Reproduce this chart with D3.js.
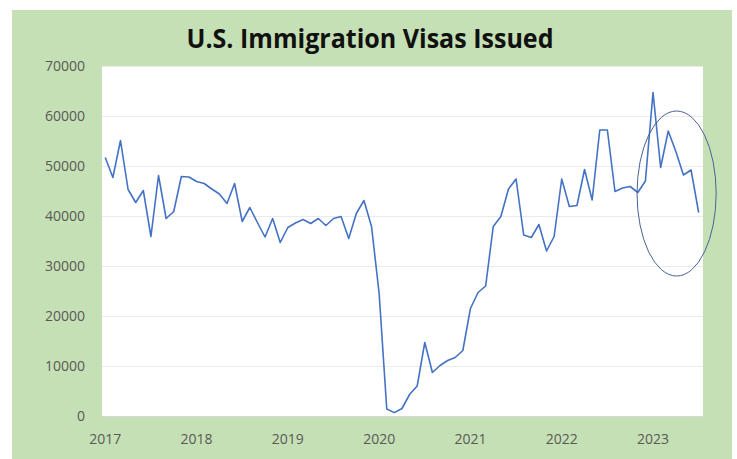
<!DOCTYPE html>
<html>
<head>
<meta charset="utf-8">
<script src="https://cdn.jsdelivr.net/npm/d3@7"></script>
<style>
  body { margin: 0; background: #fff; }
  svg { display: block; }
</style>
</head>
<body>
<div id="chart"></div>
<script>
// monthly visas issued, Jan 2017 .. Jul 2023
let visas2017 = [51700, 47700, 55100, 45300, 42700, 45100, 35900, 48100, 39500, 40900, 47900, 47800];
let visas2018 = [46900, 46500, 45400, 44400, 42500, 46500, 38900, 41700, 38700, 35800, 39500, 34700];
let visas2019 = [37700, 38600, 39300, 38500, 39500, 38100, 39500, 39900, 35500, 40500, 43100, 37900];
let visas2020 = [24500, 1400, 670, 1500, 4300, 6000, 14700, 8700, 10100, 11100, 11700, 13100];
let visas2021 = [21500, 24700, 26000, 37900, 39900, 45400, 47400, 36200, 35700, 38300, 33000, 35900];
let visas2022 = [47400, 41900, 42100, 49300, 43200, 57200, 57200, 44900, 45600, 45900, 44700, 47000];
let visas2023 = [64700, 49700, 57000, 52900, 48200, 49200, 40700];

let years = ["2017", "2018", "2019", "2020", "2021", "2022", "2023"];
let yTicks = [0, 10000, 20000, 30000, 40000, 50000, 60000, 70000];

let values = [].concat(visas2017, visas2018, visas2019, visas2020, visas2021, visas2022, visas2023);

let width = 737, height = 459;

let svg = d3.select("#chart")
    .append("svg")
    .attr("width", width)
    .attr("height", height);

// green chart background
svg.append("rect")
    .attr("x", 12).attr("y", 10)
    .attr("width", 720).attr("height", 449)
    .attr("fill", "#c5e0b4");

let plot = { left: 102, right: 703, top: 66, bottom: 416 };

svg.append("rect")
    .attr("x", plot.left).attr("y", plot.top)
    .attr("width", plot.right - plot.left)
    .attr("height", plot.bottom - plot.top)
    .attr("fill", "#fff");

let x = d3.scaleLinear()
    .domain([-0.43, 78.57])
    .range([plot.left, plot.right]);

let y = d3.scaleLinear()
    .domain([0, 70000])
    .range([plot.bottom, plot.top]);

// gridlines
svg.append("g")
    .selectAll("line")
    .data(yTicks)
    .enter()
    .append("line")
    .attr("x1", plot.left).attr("x2", plot.right)
    .attr("y1", function(d) { return y(d) + 0.5; })
    .attr("y2", function(d) { return y(d) + 0.5; })
    .attr("stroke", function(d) { return d === 0 ? "#d9d9d9" : "#ebebeb"; })
    .attr("stroke-width", 1);

// y labels
svg.append("g")
    .selectAll("text")
    .data(yTicks)
    .enter()
    .append("text")
    .attr("x", 85)
    .attr("y", function(d) { return y(d); })
    .attr("dy", "0.35em")
    .attr("text-anchor", "end")
    .attr("font-family", "Open Sans, sans-serif")
    .attr("font-size", 14)
    .attr("fill", "#595959")
    .text(function(d) { return d; });

// x labels (one per January)
svg.append("g")
    .selectAll("text")
    .data(years)
    .enter()
    .append("text")
    .attr("x", function(d, i) { return x(i * 12); })
    .attr("y", 444)
    .attr("text-anchor", "middle")
    .attr("font-family", "Open Sans, sans-serif")
    .attr("font-size", 14)
    .attr("fill", "#595959")
    .text(function(d) { return d; });

// the series
let line = d3.line()
    .x(function(d, i) { return x(i); })
    .y(function(d) { return y(d); });

svg.append("path")
    .datum(values)
    .attr("d", line)
    .attr("fill", "none")
    .attr("stroke", "#4472c4")
    .attr("stroke-width", 1.6)
    .attr("stroke-linejoin", "round");

// hand drawn circle around 2023
svg.append("ellipse")
    .attr("cx", x(75.1))
    .attr("cy", y(44500))
    .attr("rx", x(75.1) - x(69.9))
    .attr("ry", y(44500) - y(61000))
    .attr("fill", "none")
    .attr("stroke", "#4a6296")
    .attr("stroke-width", 1);

// title
svg.append("text")
    .attr("x", 370)
    .attr("y", 47.5)
    .attr("text-anchor", "middle")
    .attr("font-family", "Open Sans, sans-serif")
    .attr("font-weight", "bold")
    .attr("font-size", 27)
    .attr("textLength", 367)
    .attr("lengthAdjust", "spacingAndGlyphs")
    .attr("fill", "#111")
    .text("U.S. Immigration Visas Issued");
</script>
</body>
</html>
